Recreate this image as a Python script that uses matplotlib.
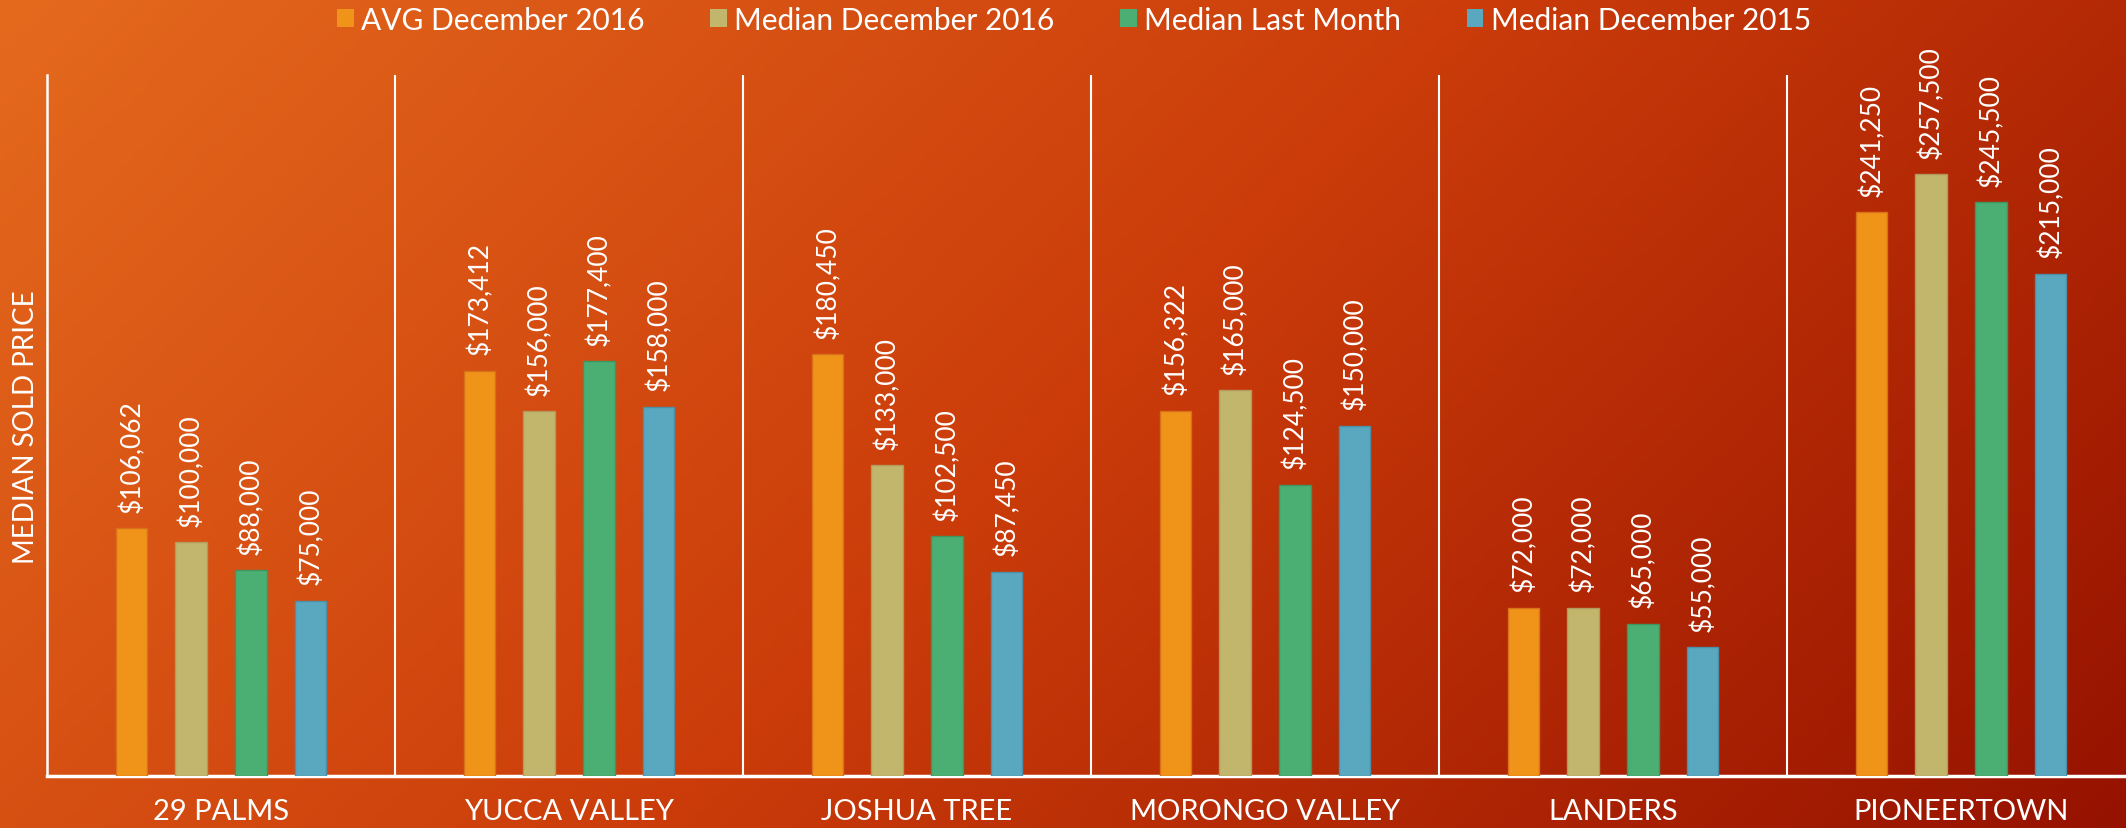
#!/usr/bin/env python3

import matplotlib
matplotlib.use("Agg")
import matplotlib.pyplot as plt
from matplotlib.patches import Patch
import numpy as np

plt.rcParams['font.family'] = ['Lato', 'DejaVu Sans']

# data
areas = ["29 PALMS", "YUCCA VALLEY", "JOSHUA TREE", "MORONGO VALLEY", "LANDERS", "PIONEERTOWN"]
series_names = ["AVG December 2016", "Median December 2016", "Median Last Month", "Median December 2015"]
avg_dec_2016 = [106062, 173412, 180450, 156322, 72000, 241250]
med_dec_2016 = [100000, 156000, 133000, 165000, 72000, 257500]
med_last_month = [88000, 177400, 102500, 124500, 65000, 245500]
med_dec_2015 = [75000, 158000, 87450, 150000, 55000, 215000]

colors = ["#F09419", "#C1B66C", "#4BAF73", "#5AA7C0"]
edges = ["#D9701A", "#B39A5C", "#3E9562", "#4E8FA8"]

W, H = 2126, 829
fig = plt.figure(figsize=(W / 100, H / 100), dpi=100)

# background gradient (light orange top-left -> dark red bottom-right)
bg = fig.add_axes([0, 0, 1, 1], zorder=-10)
gx, gy = np.meshgrid(np.linspace(0, 1, 400), np.linspace(0, 1, 160))
t = np.clip(0.72 * gx + 0.28 * gy, 0, 1)
c0 = np.array([229, 106, 30]) / 255
c1 = np.array([203, 60, 10]) / 255
c2 = np.array([150, 18, 0]) / 255
tt = t[..., None]
img = np.where(tt < 0.5, c0 + (c1 - c0) * (tt / 0.5), c1 + (c2 - c1) * ((tt - 0.5) / 0.5))
bg.imshow(img, aspect="auto", extent=[0, 1, 0, 1], origin="upper")
bg.axis("off")

ax = fig.add_axes([47 / W, 52 / H, 2088 / W, 701 / H])
ax.set_facecolor("none")

series = [avg_dec_2016, med_dec_2016, med_last_month, med_dec_2015]
offsets = [-0.257, -0.086, 0.086, 0.257]
x = np.arange(len(areas))
for vals, off, col, ec in zip(series, offsets, colors, edges):
    bars = ax.bar(x + off, vals, width=0.09, color=col, edgecolor=ec, linewidth=1, zorder=3)
    for b, v in zip(bars, vals):
        ax.annotate("${:,}".format(v), (b.get_x() + b.get_width() / 2, v),
                    xytext=(0, 12), textcoords="offset points", rotation=90,
                    ha="center", va="bottom", color="white", fontsize=19)

ax.set_xlim(-0.5, len(areas) - 0.5)
ax.set_ylim(0, 300000)
for s in [0.5, 1.5, 2.5, 3.5, 4.5]:
    ax.axvline(s, color="white", lw=1.5, zorder=2)

for side in ["top", "right"]:
    ax.spines[side].set_visible(False)
ax.spines["left"].set_color("white")
ax.spines["left"].set_linewidth(1.8)
ax.spines["bottom"].set_color("white")
ax.spines["bottom"].set_linewidth(2.5)

ax.set_yticks([])
ax.set_xticks(x)
ax.set_xticklabels(areas, color="white", fontsize=21)
ax.tick_params(axis="x", length=0, pad=16)

fig.text(26 / W, 0.5 + (829 / 2 - 427) / H, "MEDIAN SOLD PRICE", rotation=90,
         ha="center", va="center", color="white", fontsize=20)

handles = [Patch(facecolor=c, edgecolor="none") for c in colors]
fig.legend(handles, series_names, loc="center", bbox_to_anchor=(1074 / W, 1 - 21 / H),
           ncol=4, frameon=False, fontsize=21.5, labelcolor="white",
           handlelength=0.55, handleheight=0.55, handletextpad=0.25,
           columnspacing=2.2, borderpad=0)

fig.savefig("out.png", dpi=100)
